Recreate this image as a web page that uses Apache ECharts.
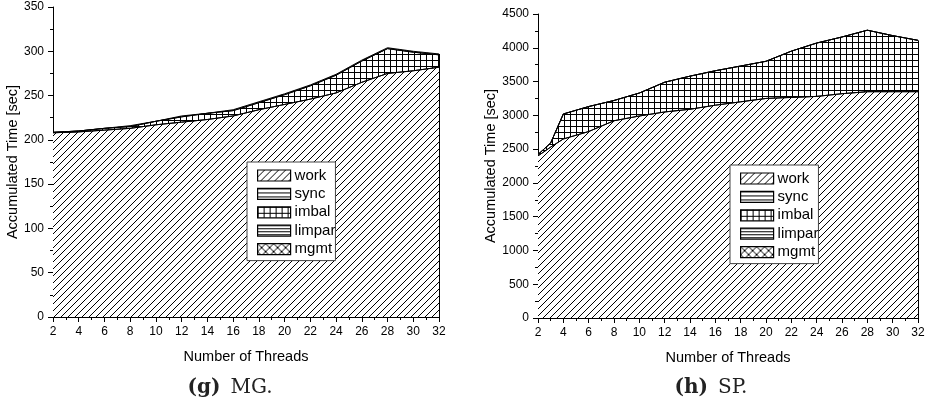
<!DOCTYPE html>
<html>
<head>
<meta charset="utf-8">
</head>
<body style="margin:0;background:#fff">
<div id="main" style="width:933px;height:402px"></div>
<script src="https://cdn.jsdelivr.net/npm/echarts@6/dist/echarts.min.js"></script>
<script>
// MG (left panel)
var threadsMG = [2, 4, 6, 8, 10, 12, 14, 16, 18, 20, 22, 24, 26, 28, 30, 32];
var workMG   = [208, 209, 211, 213, 217, 220, 223, 227, 234, 240, 246, 253, 265, 275, 278, 282];
var syncMG   = [0, 0, 0, 0, 0, 0, 0, 0, 0, 0, 0, 0, 0, 0, 0, 0];
var imbalMG  = [0.5, 1, 2, 2, 4, 6, 7, 6, 8, 11, 15, 20, 24, 28, 21, 14];
var limparMG = [0, 0, 0, 0, 0, 0, 0, 0, 0, 0, 0, 0, 0, 0, 0, 0];
var mgmtMG   = [0, 0, 0, 1, 0, 1, 0, 1, 1, 1, 1, 1, 1, 1, 1, 1];

// SP (right panel)
var threadsSP = [2, 3, 4, 6, 8, 10, 12, 14, 16, 18, 20, 22, 24, 26, 28, 30, 32];
var workSP   = [2400, 2530, 2650, 2760, 2920, 2990, 3050, 3090, 3150, 3200, 3250, 3265, 3280, 3320, 3350, 3350, 3350];
var syncSP   = [0, 0, 0, 0, 0, 0, 0, 0, 0, 0, 0, 0, 0, 0, 0, 0, 0];
var imbalSP  = [20, 60, 370, 370, 300, 340, 440, 490, 510, 530, 550, 685, 790, 840, 910, 830, 760];
var limparSP = [0, 0, 0, 0, 0, 0, 0, 0, 0, 0, 0, 0, 0, 0, 0, 0, 0];
var mgmtSP   = [0, 0, 0, 0, 0, 0, 0, 0, 0, 0, 0, 0, 0, 0, 0, 0, 0];

var names = ['work', 'sync', 'imbal', 'limpar', 'mgmt'];

// hatch fills drawn on small canvases
function makePattern(kind) {
    var w = 7, h = 7;
    if (kind == 'imbal') { w = 6; h = 6; }
    if (kind == 'sync') { w = 4; h = 4; }
    if (kind == 'limpar') { w = 3; h = 3; }
    if (kind == 'mgmt') { w = 8; h = 8; }
    var c = document.createElement('canvas');
    c.width = w; c.height = h;
    var ctx = c.getContext('2d');
    ctx.fillStyle = '#fff';
    ctx.fillRect(0, 0, w, h);
    ctx.strokeStyle = '#000';
    ctx.lineWidth = 1;
    ctx.beginPath();
    if (kind == 'work' || kind == 'mgmt') {
        ctx.moveTo(0, h); ctx.lineTo(w, 0);
        ctx.moveTo(-1, 1); ctx.lineTo(1, -1);
        ctx.moveTo(w - 1, h + 1); ctx.lineTo(w + 1, h - 1);
    }
    if (kind == 'mgmt') {
        ctx.moveTo(0, 0); ctx.lineTo(w, h);
        ctx.moveTo(-1, h - 1); ctx.lineTo(1, h + 1);
        ctx.moveTo(w - 1, -1); ctx.lineTo(w + 1, 1);
    }
    if (kind == 'imbal') {
        ctx.moveTo(0.5, 0); ctx.lineTo(0.5, h);
        ctx.moveTo(0, 0.5); ctx.lineTo(w, 0.5);
    }
    if (kind == 'sync' || kind == 'limpar') {
        ctx.moveTo(0, 0.5); ctx.lineTo(w, 0.5);
    }
    ctx.stroke();
    return {image: c, repeat: 'repeat'};
}

var pats = {};
names.forEach(function (n) { pats[n] = makePattern(n); });

// stack by hand: each layer is filled from 0 up to its running total,
// upper layers are drawn first so the lower ones cover them
function buildSeries(idx, xs, cols) {
    var cum = [];
    var run = xs.map(function () { return 0; });
    cols.forEach(function (c) {
        run = run.map(function (v, i) { return v + c[i]; });
        cum.push(run.slice());
    });
    var last = xs.length - 1;
    var top = cum[cum.length - 1][last];
    var list = [];
    for (var k = names.length - 1; k >= 0; k--) {
        var s = {
            name: names[k],
            type: 'line',
            xAxisIndex: idx,
            yAxisIndex: idx,
            symbol: 'none',
            data: xs.map(function (x, i) { return [x, cum[k][i]]; }),
            lineStyle: {color: '#000', width: 1},
            itemStyle: {color: '#000'},
            areaStyle: {color: pats[names[k]], opacity: 1},
            silent: true
        };
        if (k == 0) {
            // right edge of the filled area
            s.markLine = {
                silent: true,
                symbol: 'none',
                label: {show: false},
                lineStyle: {color: '#000', width: 1, type: 'solid'},
                data: [[{coord: [xs[last], 0]}, {coord: [xs[last], top]}]]
            };
        }
        list.push(s);
    }
    return list;
}

function legendItems() {
    return names.map(function (n) {
        return {name: n, icon: 'rect', itemStyle: {color: pats[n], borderColor: '#000', borderWidth: 1.2}};
    });
}

var axisText = {color: '#000', fontFamily: 'Liberation Sans', fontSize: 12};
var nameText = {color: '#000', fontFamily: 'Liberation Sans', fontSize: 14.5};

function xAxisDef(idx) {
    return {
        type: 'value', gridIndex: idx, min: 2, max: 32, interval: 2,
        name: 'Number of Threads', nameLocation: 'middle', nameGap: 32,
        nameTextStyle: nameText,
        axisLine: {lineStyle: {color: '#000', width: 1}},
        axisTick: {show: true, length: 5, lineStyle: {color: '#000'}},
        minorTick: {show: true, splitNumber: 2, length: 3, lineStyle: {color: '#000'}},
        axisLabel: Object.assign({margin: 9}, axisText),
        splitLine: {show: false}
    };
}

function yAxisDef(idx, max, step, gap) {
    return {
        type: 'value', gridIndex: idx, min: 0, max: max, interval: step,
        name: 'Accumulated Time [sec]', nameLocation: 'middle', nameGap: gap,
        nameTextStyle: nameText,
        axisLine: {show: true, lineStyle: {color: '#000', width: 1}},
        axisTick: {show: true, length: 5, lineStyle: {color: '#000'}},
        minorTick: {show: true, splitNumber: 2, length: 3, lineStyle: {color: '#000'}},
        axisLabel: Object.assign({margin: 9, formatter: function (v) { return String(v); }}, axisText),
        splitLine: {show: false}
    };
}

function caption(letter, word, x) {
    return {
        text: '{b|' + letter + '}  {r|' + word + '}', left: x, top: 373, textAlign: 'center',
        textStyle: {fontWeight: 'normal', rich: {
            b: {fontFamily: 'DejaVu Serif', fontWeight: 'bold', fontSize: 20, color: '#222'},
            r: {fontFamily: 'DejaVu Serif', fontWeight: 'normal', fontSize: 20, color: '#222'}
        }}
    };
}

function legendDef(x, y) {
    return {
        data: legendItems(), orient: 'vertical', left: x, top: y,
        itemWidth: 33, itemHeight: 11, itemGap: 3.4,
        padding: [6, 0, 4, 10],
        backgroundColor: '#fff', borderColor: '#444', borderWidth: 1,
        textStyle: {color: '#000', fontFamily: 'Liberation Sans', fontSize: 15, lineHeight: 15, padding: [0, 0, 0, -1]},
        selectedMode: false
    };
}

var chart = echarts.init(document.getElementById('main'));
var option = {
    animation: false,
    backgroundColor: '#fff',
    title: [caption('(g)', 'MG.', 225), caption('(h)', 'SP.', 706)],
    legend: [legendDef(247, 162), legendDef(730, 165)],
    grid: [
        {left: 53, top: 7, right: 494, bottom: 85},
        {left: 538, top: 14, right: 15, bottom: 84}
    ],
    xAxis: [xAxisDef(0), xAxisDef(1)],
    yAxis: [yAxisDef(0, 350, 50, 33), yAxisDef(1, 4500, 500, 40)],
    series: buildSeries(0, threadsMG, [workMG, syncMG, imbalMG, limparMG, mgmtMG])
        .concat(buildSeries(1, threadsSP, [workSP, syncSP, imbalSP, limparSP, mgmtSP]))
};
chart.setOption(option);
</script>
</body>
</html>
